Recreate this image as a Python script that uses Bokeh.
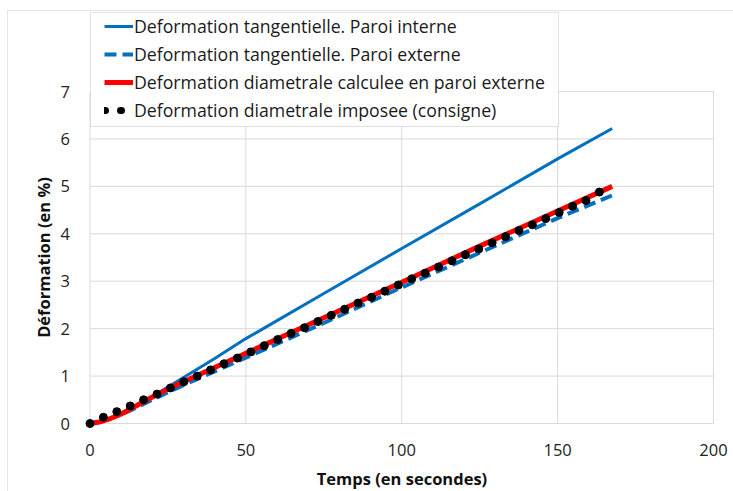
from bokeh.plotting import figure
from bokeh.models import Range1d, Legend, LegendItem, BoxAnnotation, FixedTicker
from bokeh.embed import file_html
from bokeh.resources import INLINE

# Time (s) knots for the three measured/calculated curves
t_curve = [0, 3, 6, 10, 15, 20, 25, 30, 40, 50, 60, 75, 100, 125, 150, 167.5]
def_interne = [0, 0.03, 0.10, 0.20, 0.37, 0.57, 0.77, 0.97, 1.37, 1.79, 2.17, 2.74, 3.69, 4.63, 5.58, 6.22]
def_externe = [0, 0.03, 0.09, 0.19, 0.34, 0.50, 0.66, 0.81, 1.10, 1.39, 1.68, 2.12, 2.87, 3.60, 4.33, 4.81]
def_diam_calc = [0, 0.03, 0.09, 0.20, 0.38, 0.56, 0.73, 0.88, 1.18, 1.48, 1.78, 2.23, 2.98, 3.74, 4.48, 5.00]

# Imposed diametral strain (set point)
t_consigne = [0, 4.3, 8.6, 12.9, 17.2, 21.5, 25.8, 30.1, 34.4, 38.7, 43.0, 47.3, 51.6, 55.9,
              60.2, 64.5, 68.8, 73.1, 77.4, 81.7, 86.0, 90.3, 94.6, 98.9, 103.2, 107.5, 111.8,
              116.1, 120.4, 124.7, 129.0, 133.3, 137.6, 141.9, 146.2, 150.5, 154.8, 159.1, 163.4]
def_consigne = [0, 0.13, 0.25, 0.37, 0.50, 0.62, 0.75, 0.88, 1.00, 1.13, 1.26, 1.38, 1.51, 1.64,
                1.77, 1.90, 2.02, 2.15, 2.28, 2.41, 2.54, 2.66, 2.79, 2.92, 3.05, 3.17, 3.30,
                3.43, 3.56, 3.68, 3.81, 3.94, 4.07, 4.19, 4.32, 4.45, 4.58, 4.70, 4.88]

labels = ["Deformation tangentielle. Paroi interne",
          "Deformation tangentielle. Paroi externe",
          "Deformation diametrale calculee en paroi externe",
          "Deformation diametrale imposee (consigne)"]

x_ticks = [0, 50, 100, 150, 200]
y_ticks = [0, 1, 2, 3, 4, 5, 6, 7]
x_lo, x_hi = 0, 200
y_lo, y_hi = 0, 7

FONT = "Open Sans"
GRID = "#d9d9d9"
BLUE = "#0070c0"
RED = "#ff0000"

W, H = 733, 491
# plot area in canvas pixels: x 0..200 -> 89.5..713, y 0..7 -> 423..91
px_per_x = (713 - 89.5) / (x_hi - x_lo)
px_per_y = (423 - 91) / (y_hi - y_lo)
x_range = Range1d(x_lo - 89.5 / px_per_x, x_hi + (W - 713) / px_per_x)
y_range = Range1d(y_lo - (H - 423) / px_per_y, y_hi + 91 / px_per_y)

p = figure(width=W, height=H, output_backend="svg", toolbar_location=None,
           x_range=x_range, y_range=y_range, title=None,
           min_border=0, x_axis_location="below", y_axis_location="left")
p.outline_line_color = None
p.xgrid.visible = False
p.ygrid.visible = False

for ax in (p.xaxis[0], p.yaxis[0]):
    ax.axis_line_color = None
    ax.major_tick_line_color = None
    ax.minor_tick_line_color = None
    ax.major_label_text_font = FONT
    ax.major_label_text_font_size = "16.5px"
    ax.major_label_text_color = "#222222"
    ax.axis_label_text_font = FONT
    ax.axis_label_text_font_style = "bold"
    ax.axis_label_text_font_size = "16.5px"
    ax.axis_label_text_color = "#111111"

p.xaxis.fixed_location = y_lo
p.yaxis.fixed_location = x_lo
p.xaxis.bounds = (x_lo, x_hi)
p.yaxis.bounds = (y_lo, y_hi)
p.xaxis.ticker = FixedTicker(ticks=x_ticks)
p.yaxis.ticker = FixedTicker(ticks=y_ticks)
p.xaxis.axis_label = "Temps (en secondes)"
p.yaxis.axis_label = "Déformation (en %)"
p.xaxis.major_label_standoff = 14
p.yaxis.major_label_standoff = 14
p.xaxis.axis_label_standoff = 8
p.yaxis.axis_label_standoff = 3

# grid of the plot area
p.segment(x0=x_ticks, y0=[y_lo] * len(x_ticks), x1=x_ticks, y1=[y_hi] * len(x_ticks),
          line_color=GRID, line_width=1)
p.segment(x0=[x_lo] * len(y_ticks), y0=y_ticks, x1=[x_hi] * len(y_ticks), y1=y_ticks,
          line_color=GRID, line_width=1)

r1 = p.line(t_curve, def_interne, line_color=BLUE, line_width=3)
r2 = p.line(t_curve, def_externe, line_color=BLUE, line_width=4, line_dash="12 6")
r3 = p.line(t_curve, def_diam_calc, line_color=RED, line_width=5)
r4 = p.scatter(t_consigne, def_consigne, size=8, fill_color="black", line_color="black")
# legend swatch for the set point: a row of round dots (hidden in the plot itself)
r4_key = p.line(t_consigne, def_consigne, line_color="black", line_width=7,
                line_dash="1 15", line_cap="round", visible=False)

# legend frame
p.add_layout(BoxAnnotation(left=90, right=558, top=12, bottom=126,
                           left_units="canvas", right_units="canvas",
                           top_units="canvas", bottom_units="canvas",
                           fill_color="white", fill_alpha=1,
                           line_color="#a0a0a0", line_width=1))

legend = Legend(items=[
    LegendItem(label=labels[0], renderers=[r1]),
    LegendItem(label=labels[1], renderers=[r2]),
    LegendItem(label=labels[2], renderers=[r3]),
    LegendItem(label=labels[3], renderers=[r4_key]),
], location=(104, H - 122))
legend.label_text_font = FONT
legend.label_text_font_size = "17.7px"
legend.label_text_color = "#1a1a1a"
legend.glyph_width = 29
legend.glyph_height = 22
legend.label_height = 22
legend.label_standoff = 1
legend.spacing = 4
legend.padding = 0
legend.margin = 0
legend.border_line_color = None
legend.background_fill_alpha = 0
legend.inactive_fill_alpha = 0
p.add_layout(legend, "center")

# outer sheet border
p.add_layout(BoxAnnotation(left=7, right=W + 20, top=10, bottom=H + 20,
                           left_units="canvas", right_units="canvas",
                           top_units="canvas", bottom_units="canvas",
                           fill_color=None, line_color="#a6a6a6", line_width=1))

open("out.html", "w").write(file_html(p, INLINE))
